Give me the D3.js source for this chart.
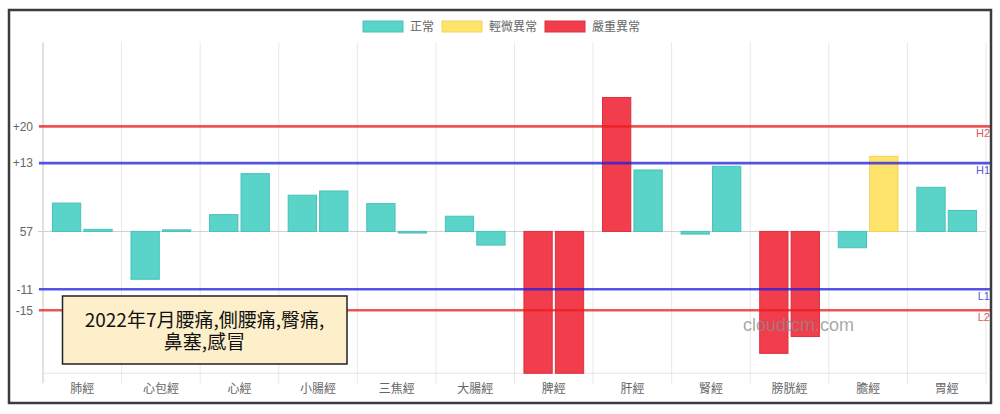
<!DOCTYPE html>
<html>
<head>
<meta charset="utf-8">
<script src="https://cdnjs.cloudflare.com/ajax/libs/d3/7.8.5/d3.min.js"></script>
<style>
  body { margin: 0; background: #fff; }
  svg { display: block; font-family: "Liberation Sans", Arial, "Noto Sans CJK TC", sans-serif; }
</style>
</head>
<body>
<svg width="1000" height="414"></svg>
<script>
// 12 meridians, two readings each (left / right)
var categories = ['肺經', '心包經', '心經', '小腸經', '三焦經', '大腸經', '脾經', '肝經', '腎經', '膀胱經', '膽經', '胃經'];
var leftValues  = [5.4, -9.1, 3.2, 6.9, 5.3, 2.9, -27, 25.5, -0.5, -23.2, -3.1, 8.4];
var rightValues = [0.4, 0.3, 11.0, 7.7, -0.3, -2.6, -27, 11.7, 12.4, -20.0, 14.3, 4.0];

var yTicks = [20, 13, 0, -11, -15];
var yTickLabels = ['+20', '+13', '57', '-11', '-15'];

var limitNames = ['H2', 'H1', 'L1', 'L2'];
var limitValues = [20, 13, -11, -15];

var legendLabels = ['正常', '輕微異常', '嚴重異常'];
var noteLines = ['2022年7月腰痛,側腰痛,臀痛,', '鼻塞,感冒'];

var fills   = ['#5ad3c9', '#ffe46b', '#f13d4c'];
var strokes = ['#48c2b8', '#f2d35a', '#d9323f'];
var limitColors = { H2: 'rgba(235,30,30,0.75)', H1: 'rgba(30,30,225,0.75)', L1: 'rgba(30,30,225,0.75)', L2: 'rgba(235,30,30,0.75)' };
var limitText = { H2: '#e05a5a', H1: '#5a5ad8', L1: '#5a5ad8', L2: '#e05a5a' };

function status(v) {
    if (v > 20 || v < -15) return 2;
    if (v > 13 || v < -11) return 1;
    return 0;
}

var svg = d3.select('svg');
var pl = 43, pr = 986, pt = 42.3, pb = 373.3;

var x = d3.scaleBand().domain(categories).range([pl, pr]);
var bw = x.bandwidth();
var xInner = d3.scaleBand().domain([0, 1]).range([0.1 * bw, 0.9 * bw]).paddingInner(0.1).paddingOuter(0.05);
var y = d3.scaleLinear().domain([-27, 36]).range([pb, pt]);

// vertical grid
var gx = d3.range(categories.length + 1).map(function(i) { return pl + i * bw; });
svg.append('g').selectAll('line').data(gx).enter().append('line')
    .attr('x1', function(d) { return d; }).attr('x2', function(d) { return d; })
    .attr('y1', pt).attr('y2', pb + 10)
    .attr('stroke', function(d, i) { return i === 0 ? '#c4c4c4' : '#e8e8e8'; })
    .attr('stroke-width', 1);

// horizontal grid at ticks + bottom
svg.append('g').selectAll('line').data(yTicks).enter().append('line')
    .attr('x1', pl - 5).attr('x2', pr)
    .attr('y1', function(d) { return y(d); }).attr('y2', function(d) { return y(d); })
    .attr('stroke', function(d) { return d === 0 ? '#cfcfcf' : '#e8e8e8'; });
svg.append('line').attr('x1', pl).attr('x2', pr).attr('y1', pb).attr('y2', pb)
    .attr('stroke', '#e6e6e6');

// y axis labels
var yAxis = d3.axisLeft(y).tickValues(yTicks).tickSize(0).tickPadding(10)
    .tickFormat(function(d, i) { return yTickLabels[i]; });
var ya = svg.append('g').attr('transform', 'translate(' + pl + ',0)').call(yAxis);
ya.select('.domain').remove();
ya.selectAll('text').attr('fill', '#666').attr('font-size', 12);

// x axis labels
var xAxis = d3.axisBottom(x).tickSize(0).tickPadding(11);
var xa = svg.append('g').attr('transform', 'translate(0,' + pb + ')').call(xAxis);
xa.select('.domain').remove();
xa.selectAll('text').attr('fill', '#666').attr('font-size', 12)
    .attr('font-family', '"Noto Sans CJK TC", sans-serif');

// bars
var bars = [];
categories.forEach(function(c, i) {
    bars.push({ cat: c, side: 0, v: leftValues[i] });
    bars.push({ cat: c, side: 1, v: rightValues[i] });
});
svg.append('g').selectAll('rect').data(bars).enter().append('rect')
    .attr('x', function(d) { return x(d.cat) + xInner(d.side); })
    .attr('width', xInner.bandwidth())
    .attr('y', function(d) { return y(Math.max(0, d.v)); })
    .attr('height', function(d) { return Math.abs(y(d.v) - y(0)); })
    .attr('fill', function(d) { return fills[status(d.v)]; })
    .attr('stroke', function(d) { return strokes[status(d.v)]; })
    .attr('stroke-width', 1);

// limit lines
var lim = svg.append('g');
limitNames.forEach(function(n, i) {
    var yy = y(limitValues[i]);
    lim.append('line').attr('x1', pl - 4).attr('x2', 991).attr('y1', yy).attr('y2', yy)
        .attr('stroke', limitColors[n]).attr('stroke-width', 2.6);
    lim.append('text').attr('x', 990).attr('y', yy + 11).attr('text-anchor', 'end')
        .attr('font-size', 11).attr('fill', limitText[n]).text(n);
});

// legend
var legX = [363, 442, 545];
var leg = svg.append('g');
legendLabels.forEach(function(l, i) {
    leg.append('rect').attr('x', legX[i]).attr('y', 21).attr('width', 40).attr('height', 11)
        .attr('fill', fills[i]).attr('stroke', strokes[i]).attr('stroke-width', 1);
    leg.append('text').attr('x', legX[i] + 47).attr('y', 31).attr('font-size', 12)
        .attr('fill', '#666').attr('font-family', '"Noto Sans CJK TC", sans-serif').text(l);
});

// note box
svg.append('rect').attr('x', 62.5).attr('y', 296).attr('width', 284.5).attr('height', 68)
    .attr('fill', '#fdefc9').attr('stroke', '#222').attr('stroke-width', 1.5);
svg.append('g').selectAll('text').data(noteLines).enter().append('text')
    .attr('x', 204.5).attr('y', function(d, i) { return 327 + i * 22; })
    .attr('text-anchor', 'middle').attr('font-size', 19).attr('fill', '#111')
    .attr('font-family', '"Noto Sans CJK TC", sans-serif')
    .text(function(d) { return d; });

// watermark
svg.append('text').attr('x', 743).attr('y', 331).attr('font-size', 18)
    .attr('fill', 'rgba(140,140,140,0.75)').text('cloudtcm.com');

// frame
svg.append('rect').attr('x', 9).attr('y', 10).attr('width', 982).attr('height', 393)
    .attr('fill', 'none').attr('stroke', '#3c3c3c').attr('stroke-width', 2.5);
</script>
</body>
</html>
